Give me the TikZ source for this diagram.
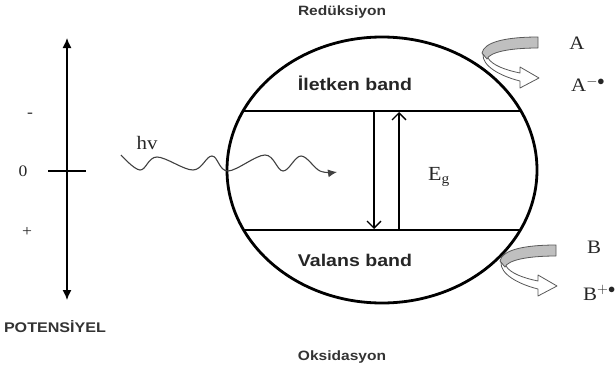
\documentclass[tikz,border=0pt]{standalone}
\usepackage{fontspec}
\newfontfamily\sfb[FakeStretch=1.15]{Liberation Sans Bold}
\newfontfamily\tms[FakeStretch=1.1]{Liberation Serif}
\usetikzlibrary{arrows.meta,shapes.geometric}
\begin{document}
\begin{tikzpicture}[x=1pt,y=-1pt,
  band/.style={font=\sfb\fontsize{17}{20}\selectfont, text=black!85, inner sep=0},
  smallsans/.style={font=\sfb\fontsize{13.5}{16}\selectfont, text=black!80, inner sep=0},
  serif/.style={font=\tms\fontsize{19}{22}\selectfont, text=black!85, inner sep=0},
  thickline/.style={line width=2.8pt},
  thinarrow/.style={line width=1.3pt},
  arrowedge/.style={draw=black!65, line width=0.8pt, line join=round},
  curlarrow/.pic={
    \draw[arrowedge, fill=white] (483,54) .. controls (482,66) and (500,76) .. (520,81)
      -- (520,88) -- (539,78) -- (520,67) -- (520,73)
      .. controls (505,70) and (492,65) .. (488,58) -- cycle;
    \draw[arrowedge, fill=black!25] (538,37) .. controls (506,37) and (484,42) .. (482,53)
      -- (487,59) .. controls (490,52) and (510,48) .. (538,48) -- cycle;
  }
]
\useasboundingbox (0,0) rectangle (616,372);

% potential axis
\coordinate (ptop) at (67,38);
\coordinate (pbot) at (67,300);
\draw[thinarrow, {Latex[length=10pt,width=9pt]}-{Latex[length=10pt,width=9pt]}] (ptop) -- (pbot);
\coordinate (tl) at (48,171);
\coordinate (tr) at (86,171);
\draw[line width=1.2pt] (tl) -- (tr);
\node[serif, font=\tms\fontsize{16}{18}\selectfont] (zero) at (23,171) {0};
\node[serif, font=\tms\fontsize{16}{18}\selectfont] (minus) at (30,115) {-};
\node[serif, font=\tms\fontsize{16}{18}\selectfont] (plus) at (27,232) {+};
\node[smallsans, font=\sfb\fontsize{14}{16}\selectfont] (pot) at (55,327) {POTENSİYEL};

% semiconductor particle
\node[draw, ellipse, thickline, minimum width=310pt, minimum height=266pt, inner sep=0] (cell) at (382,170) {};
\coordinate (cbL) at (243,111);
\coordinate (cbR) at (521,111);
\coordinate (vbL) at (244,230);
\coordinate (vbR) at (520,230);
\draw[thickline] (cbL) -- (cbR);
\draw[thickline] (vbL) -- (vbR);

\node[band] (cb) at (355,83) {İletken band};
\node[band] (vb) at (355,260) {Valans band};
\node[smallsans] (red) at (342,12) {Redüksiyon};
\node[smallsans] (oks) at (342,357) {Oksidasyon};

% band gap arrows
\coordinate (d1) at (374,111);
\coordinate (d2) at (374,229);
\coordinate (u1) at (399,230);
\coordinate (u2) at (399,112);
\draw[thinarrow, -{Straight Barb[length=7pt,width=14pt]}] (d1) -- (d2);
\draw[thinarrow, -{Straight Barb[length=7pt,width=14pt]}] (u1) -- (u2);
\node[serif, font=\tms\fontsize{20}{22}\selectfont] (eg) at (439,177) {E\textsubscript{g}};

% photon
\node[serif] (hv) at (147,143) {hv};
\draw[black!75, line width=1.1pt, -{Latex[length=9pt,width=8pt]}]
  plot[smooth, tension=0.6] coordinates {(121,155) (140,170) (157,157) (193,170) (212,156) (228,171) (265,155) (283,171) (301,156) (320,171) (337,172)};

% redox arrows
\pic at (0,0) {curlarrow};
\pic at (18,208) {curlarrow};
\node[serif] (A) at (577,43) {A};
\node[serif, anchor=west] (Am) at (571,84) {A$^{-\bullet}$};
\node[serif] (B) at (594,247) {B};
\node[serif, anchor=west] (Bp) at (583,293) {B$^{+\bullet}$};
\end{tikzpicture}
\end{document}
